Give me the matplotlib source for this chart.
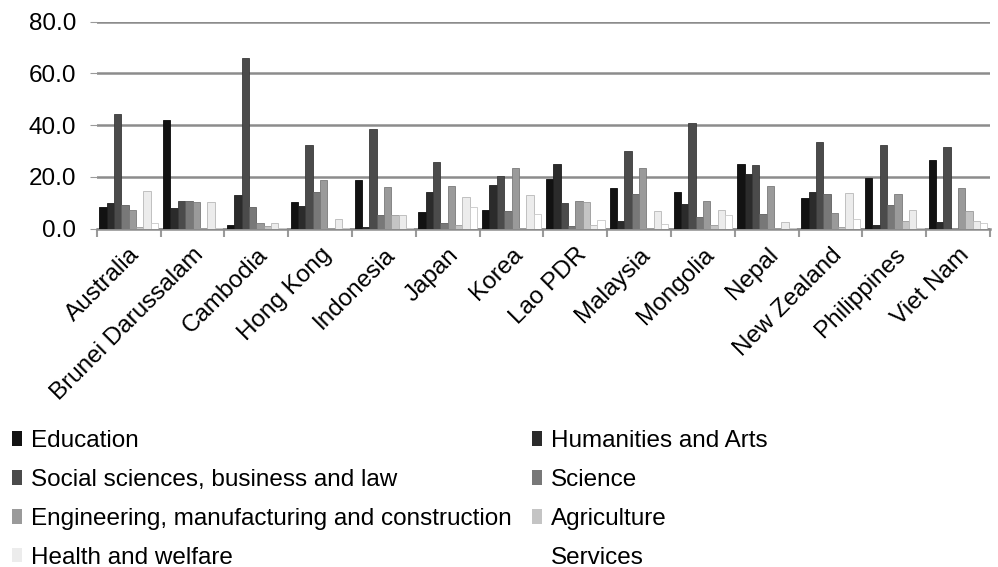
import numpy as np
import matplotlib
matplotlib.use('Agg')
import matplotlib.pyplot as plt
from matplotlib.patches import Patch

plt.rcParams['font.family'] = ['Liberation Sans', 'DejaVu Sans']

# data (percent of graduates by field)
countries = ['Australia', 'Brunei Darussalam', 'Cambodia', 'Hong Kong', 'Indonesia', 'Japan', 'Korea',
             'Lao PDR', 'Malaysia', 'Mongolia', 'Nepal', 'New Zealand', 'Philippines', 'Viet Nam']
education = [8.4, 41.9, 1.3, 10.1, 18.6, 6.2, 7.3, 19.3, 15.7, 14.0, 24.9, 11.8, 19.4, 26.4]
humanities = [9.8, 7.9, 13.1, 8.8, 0.5, 14.3, 17.0, 24.9, 2.9, 9.4, 21.0, 14.3, 1.5, 2.6]
social = [44.3, 10.7, 65.8, 32.1, 38.5, 25.8, 20.2, 9.7, 30.1, 40.6, 24.4, 33.3, 32.4, 31.6]
science = [9.0, 10.7, 8.4, 14.3, 5.1, 2.2, 6.6, 0.8, 13.4, 4.5, 5.5, 13.4, 9.2, 0.0]
engineering = [7.2, 10.4, 2.2, 18.6, 16.0, 16.6, 23.2, 10.7, 23.2, 10.7, 16.4, 5.8, 13.3, 15.7]
agriculture = [0.5, 0.3, 0.9, 0.3, 5.1, 1.3, 0.3, 10.4, 0.3, 1.3, 0.3, 0.5, 2.9, 6.8]
health = [14.4, 10.1, 2.2, 3.5, 5.1, 12.1, 13.1, 1.3, 6.8, 7.2, 2.5, 13.6, 7.2, 2.9]
services = [2.2, 0.3, 0.3, 0.3, 0.3, 8.4, 5.5, 3.1, 1.6, 5.1, 0.3, 3.5, 0.3, 2.0]

fields = ['Education', 'Humanities and Arts', 'Social sciences, business and law', 'Science',
          'Engineering, manufacturing and construction', 'Agriculture', 'Health and welfare', 'Services']
series = [education, humanities, social, science, engineering, agriculture, health, services]
colors = ['#121212', '#2b2b2b', '#4b4b4b', '#787878', '#9a9a9a', '#c4c4c4', '#ececec', '#ffffff']
edges = ['#0a0a0a', '#1e1e1e', '#3a3a3a', '#5e5e5e', '#7a7a7a', '#9a9a9a', '#b8b8b8', '#c8c8c8']

fs = 17.5

fig = plt.figure(figsize=(9.98, 5.67), dpi=100)
ax = fig.add_axes([0.097, 0.597, 0.895, 0.365])

x = np.arange(len(countries))
n = len(series)
group_w = 0.92
bw = group_w / n
for i, vals in enumerate(series):
    ax.bar(x - group_w / 2 + bw * (i + 0.5), vals, width=bw, color=colors[i],
           edgecolor=edges[i], linewidth=0.6, zorder=3)

ax.set_xlim(-0.5, len(countries) - 0.5)
ax.set_ylim(0, 80)
ax.set_yticks([0, 20, 40, 60, 80])
ax.set_yticklabels(['%.1f' % v for v in [0, 20, 40, 60, 80]], fontsize=fs)
ax.yaxis.grid(True, color='#8c8c8c', linewidth=1.8, zorder=0)
ax.tick_params(axis='y', length=5, color='#9a9a9a', pad=10)

# category labels at group centres, tick marks at group boundaries
ax.set_xticks(x)
ax.set_xticklabels(countries, rotation=45, ha='right', rotation_mode='anchor', fontsize=fs)
ax.tick_params(axis='x', which='major', length=0, pad=11)
ax.set_xticks(np.arange(len(countries) + 1) - 0.5, minor=True)
ax.tick_params(axis='x', which='minor', length=6, width=1.5, color='#9a9a9a')

for s in ['top', 'right', 'left']:
    ax.spines[s].set_visible(False)
ax.spines['bottom'].set_color('#8c8c8c')
ax.spines['bottom'].set_linewidth(1.8)

# legend in two columns, row-major like the original
handles = [Patch(facecolor=colors[i], edgecolor='none') for i in range(n)]
left_idx = [0, 2, 4, 6]
right_idx = [1, 3, 5, 7]
leg_kw = dict(frameon=False, fontsize=fs, handlelength=0.42, handleheight=0.55,
              handletextpad=0.35, labelspacing=0.69, borderaxespad=0, borderpad=0)
fig.legend([handles[i] for i in left_idx], [fields[i] for i in left_idx],
           loc='upper left', bbox_to_anchor=(0.012, 0.241), **leg_kw)
fig.legend([handles[i] for i in right_idx], [fields[i] for i in right_idx],
           loc='upper left', bbox_to_anchor=(0.533, 0.241), **leg_kw)

fig.savefig('out.png', dpi=100)
